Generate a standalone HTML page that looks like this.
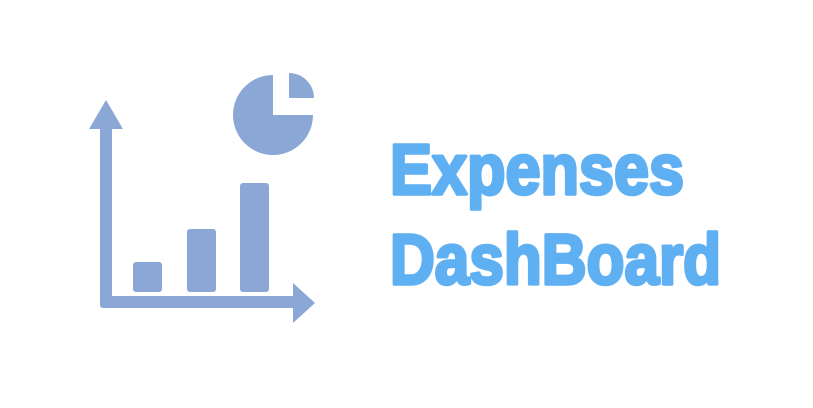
<!DOCTYPE html>
<html>
<head>
<meta charset="utf-8">
<style>
html,body{margin:0;padding:0;background:#fff;}
svg{display:block;}
</style>
</head>
<body>
<svg width="813" height="408" viewBox="0 0 813 408">
  <g fill="#8ba7d6">
    <rect x="100" y="125" width="12" height="183" rx="3"/>
    <polygon points="106,100 89,129 123,129"/>
    <rect x="100" y="296" width="197" height="12" rx="3"/>
    <polygon points="315,303 293,283 293,323"/>
    <rect x="133" y="262" width="29" height="30" rx="3"/>
    <rect x="187" y="229" width="29" height="63" rx="3"/>
    <rect x="240" y="183" width="29" height="109" rx="3"/>
    <path d="M273,115 L313,115 A40,40 0 1 1 273,75 Z"/>
    <path d="M289,98 L289,73 A25,25 0 0 1 314,98 Z"/>
  </g>
  <g fill="#5fb0f2" stroke="#5fb0f2" stroke-width="3.5" stroke-linejoin="round" font-family="'Liberation Sans Narrow','Liberation Sans',sans-serif" font-weight="bold">
    <text x="390" y="194" font-size="71" textLength="294" lengthAdjust="spacingAndGlyphs">Expenses</text>
    <text x="390" y="284" font-size="71" textLength="331" lengthAdjust="spacingAndGlyphs">DashBoard</text>
  </g>
</svg>
</body>
</html>
